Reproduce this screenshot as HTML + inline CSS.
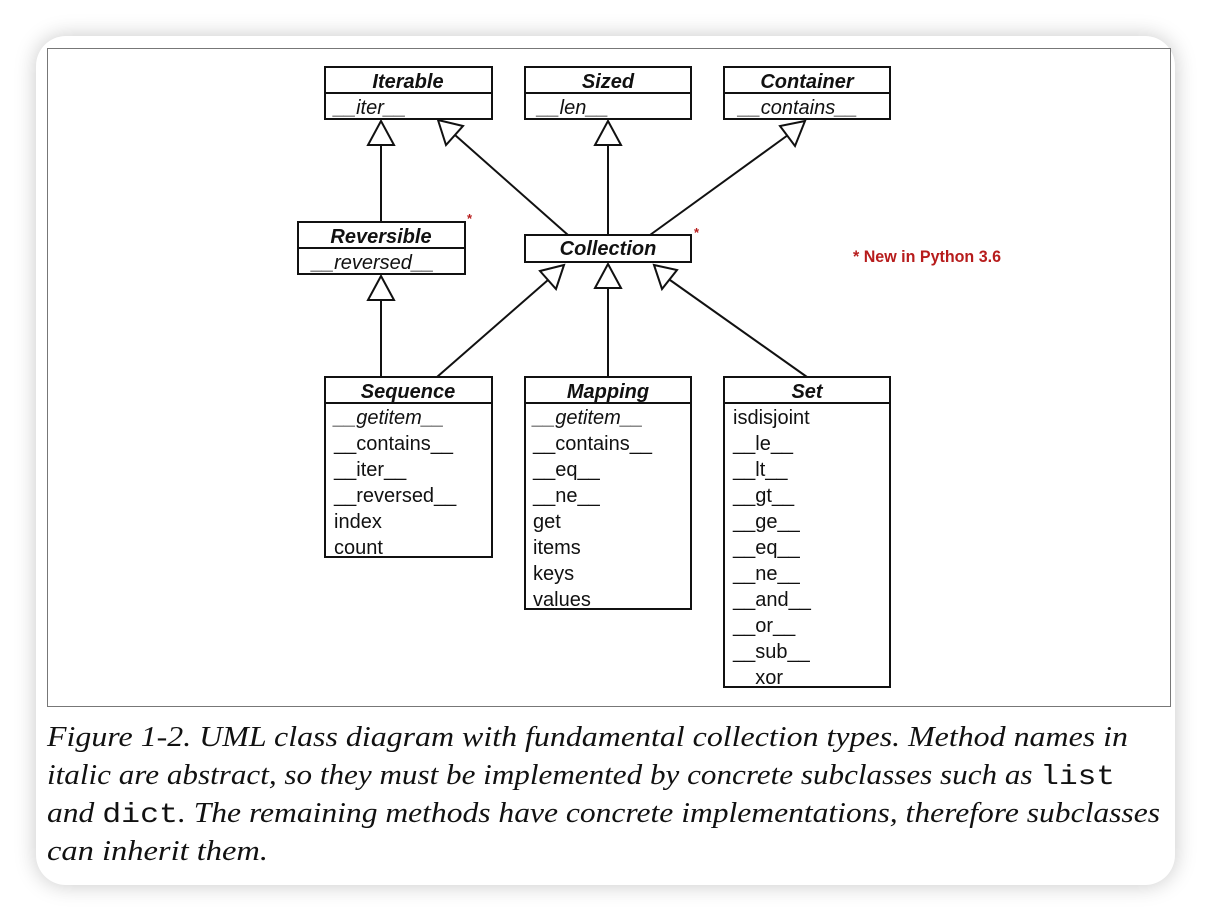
<!DOCTYPE html>
<html><head><meta charset="utf-8"><style>
html,body{margin:0;padding:0;background:#fff;}
.card{position:absolute;left:36px;top:36px;width:1139px;height:849px;background:#fff;border-radius:30px;box-shadow:0 0 22px rgba(0,0,0,0.22);}
svg{position:absolute;left:0;top:0;}
</style></head><body>
<div class="card"></div>
<svg width="1210" height="922" viewBox="0 0 1210 922" xmlns="http://www.w3.org/2000/svg">
<rect x="47.5" y="48.5" width="1123" height="658" fill="#fff" stroke="#777" stroke-width="1"/>
<g fill="#fff" stroke="#111" stroke-width="2">
<rect x="325" y="67" width="167" height="52"/><line x1="325" y1="93" x2="492" y2="93"/>
<rect x="525" y="67" width="166" height="52"/><line x1="525" y1="93" x2="691" y2="93"/>
<rect x="724" y="67" width="166" height="52"/><line x1="724" y1="93" x2="890" y2="93"/>
<rect x="298" y="222" width="167" height="52"/><line x1="298" y1="248" x2="465" y2="248"/>
<rect x="525" y="235" width="166" height="27"/>
<rect x="325" y="377" width="167" height="180"/><line x1="325" y1="403" x2="492" y2="403"/>
<rect x="525" y="377" width="166" height="232"/><line x1="525" y1="403" x2="691" y2="403"/>
<rect x="724" y="377" width="166" height="310"/><line x1="724" y1="403" x2="890" y2="403"/>
</g>
<g stroke="#111" stroke-width="2" fill="#fff">
<line x1="381" y1="222" x2="381" y2="145"/><polygon points="381,121 368,145 394,145"/>
<line x1="381" y1="377" x2="381" y2="300"/><polygon points="381,276 368,300 394,300"/>
<line x1="608" y1="235" x2="608" y2="145"/><polygon points="608,121 595,145 621,145"/>
<line x1="608" y1="377" x2="608" y2="288"/><polygon points="608,264 595,288 621,288"/>
<line x1="568" y1="235" x2="455" y2="135"/><polygon points="438,120 446,145 463,126"/>
<line x1="650" y1="235" x2="788" y2="135"/><polygon points="805,121 780,126 795,146"/>
<line x1="437" y1="377" x2="548" y2="280"/><polygon points="564,265 540,271 556,289"/>
<line x1="807" y1="377" x2="670" y2="280"/><polygon points="654,265 662,289 677,270"/>
</g>
<g font-family="Liberation Sans, sans-serif" font-size="20" fill="#111" text-anchor="middle" font-weight="bold" font-style="italic">
<text x="408" y="88">Iterable</text>
<text x="608" y="88">Sized</text>
<text x="807" y="88">Container</text>
<text x="381" y="243">Reversible</text>
<text x="608" y="255">Collection</text>
<text x="408" y="398">Sequence</text>
<text x="608" y="398">Mapping</text>
<text x="807" y="398">Set</text>
</g>
<g font-family="Liberation Sans, sans-serif" font-size="20" fill="#111" font-style="italic" text-anchor="middle">
<text x="370" y="114">__iter__</text>
<text x="573" y="114">__len__</text>
<text x="798" y="114">__contains__</text>
<text x="373" y="269">__reversed__</text>
</g>
<g font-family="Liberation Sans, sans-serif" font-size="20" fill="#111">
<text x="334" y="424" font-style="italic">__getitem__</text>
<text x="334" y="450">__contains__</text>
<text x="334" y="476">__iter__</text>
<text x="334" y="502">__reversed__</text>
<text x="334" y="528">index</text>
<text x="334" y="554">count</text>
<text x="533" y="424" font-style="italic">__getitem__</text>
<text x="533" y="450">__contains__</text>
<text x="533" y="476">__eq__</text>
<text x="533" y="502">__ne__</text>
<text x="533" y="528">get</text>
<text x="533" y="554">items</text>
<text x="533" y="580">keys</text>
<text x="533" y="606">values</text>
<text x="733" y="424">isdisjoint</text>
<text x="733" y="450">__le__</text>
<text x="733" y="476">__lt__</text>
<text x="733" y="502">__gt__</text>
<text x="733" y="528">__ge__</text>
<text x="733" y="554">__eq__</text>
<text x="733" y="580">__ne__</text>
<text x="733" y="606">__and__</text>
<text x="733" y="632">__or__</text>
<text x="733" y="658">__sub__</text>
<text x="733" y="684">__xor__</text>
</g>
<g font-family="Liberation Sans, sans-serif" fill="#b71c1c" font-weight="bold">
<text x="467" y="223" font-size="13">*</text>
<text x="694" y="237" font-size="13">*</text>
<text x="853" y="262" font-size="17" textLength="148" lengthAdjust="spacingAndGlyphs">* New in Python 3.6</text>
</g>
<g font-family="Liberation Serif, serif" font-size="28" font-style="italic" fill="#111">
<text x="47" y="746" textLength="1081" lengthAdjust="spacingAndGlyphs">Figure 1-2. UML class diagram with fundamental collection types. Method names in</text>
<text x="47" y="784" textLength="1068" lengthAdjust="spacingAndGlyphs">italic are abstract, so they must be implemented by concrete subclasses such as <tspan font-family="Liberation Mono, monospace" font-style="normal">list</tspan></text>
<text x="47" y="822" textLength="1113" lengthAdjust="spacingAndGlyphs">and <tspan font-family="Liberation Mono, monospace" font-style="normal">dict</tspan>. The remaining methods have concrete implementations, therefore subclasses</text>
<text x="47" y="860" textLength="221" lengthAdjust="spacingAndGlyphs">can inherit them.</text>
</g>
</svg>
</body></html>
